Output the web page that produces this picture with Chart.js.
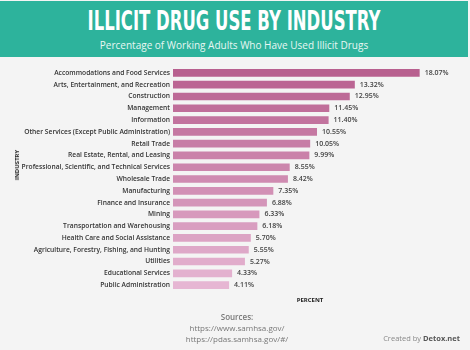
<!DOCTYPE html>
<html><head><meta charset="utf-8">
<script src="https://cdn.jsdelivr.net/npm/chart.js@4/dist/chart.umd.min.js"></script>
<style>
html,body{margin:0;padding:0;background:#f4f4f4;width:470px;height:350px;overflow:hidden;font-family:"Open Sans",sans-serif;}
#hdr{position:absolute;left:0;top:1px;width:468px;height:56px;background:#2db39c;text-align:center;color:#fff;}
#ttl{position:absolute;left:234px;top:5px;font-family:"DejaVu Sans",sans-serif;font-weight:bold;font-size:26px;white-space:nowrap;transform-origin:0 0;}
#sub{position:absolute;left:0;width:468px;top:37px;font-size:10px;color:#e8f7f3;}
#wrap{position:absolute;left:0;top:60px;width:470px;height:240px;}
.t{position:absolute;white-space:nowrap;}
</style></head><body>
<div id="hdr"><div id="ttl">ILLICIT DRUG USE BY INDUSTRY</div><div id="sub">Percentage of Working Adults Who Have Used Illicit Drugs</div></div>
<div id="wrap"><canvas id="c" width="470" height="240"></canvas></div>
<div class="t" style="left:17px;top:165px;transform:translate(-50%,-50%) rotate(-90deg);font-size:6px;font-weight:700;color:#222;">INDUSTRY</div>
<div class="t" style="left:310px;top:300px;transform:translate(-50%,-50%);font-size:6px;font-weight:700;color:#222;">PERCENT</div>
<div class="t" style="left:237px;top:311px;transform:translateX(-50%);font-size:8px;color:#777;text-align:center;line-height:11px;"><span style="font-weight:600">Sources:</span><br>https://www.samhsa.gov/<br>https://pdas.samhsa.gov/#/</div>
<div class="t" style="right:10px;top:333px;font-size:7.5px;color:#888;">Created by <b style="color:#555">Detox.net</b></div>
<script>
const categories = ["Accommodations and Food Services","Arts, Entertainment, and Recreation","Construction","Management","Information","Other Services (Except Public Administration)","Retail Trade","Real Estate, Rental, and Leasing","Professional, Scientific, and Technical Services","Wholesale Trade","Manufacturing","Finance and Insurance","Mining","Transportation and Warehousing","Health Care and Social Assistance","Agriculture, Forestry, Fishing, and Hunting","Utilities","Educational Services","Public Administration"];
const values = [18.07,13.32,12.95,11.45,11.40,10.55,10.05,9.99,8.55,8.42,7.35,6.88,6.33,6.18,5.70,5.55,5.27,4.33,4.11];
const valueLabels = ["18.07%","13.32%","12.95%","11.45%","11.40%","10.55%","10.05%","9.99%","8.55%","8.42%","7.35%","6.88%","6.33%","6.18%","5.70%","5.55%","5.27%","4.33%","4.11%"];
// fit title to reference width with horizontal condensing
const ttl=document.getElementById('ttl');const w=ttl.offsetWidth;const sx=293/w;
ttl.style.transform='translateX(-146.5px) scale('+sx+',1)';
const c0=[184,96,143], c1=[230,182,211];
const colors = categories.map((_,i)=>{const t=i/(categories.length-1);return 'rgb('+c0.map((v,k)=>Math.round(v+(c1[k]-v)*t)).join(',')+')';});
const valPlugin={id:'vals',afterDatasetsDraw(chart){const ctx=chart.ctx;const meta=chart.getDatasetMeta(0);ctx.save();ctx.font='600 7px "Open Sans"';ctx.fillStyle='#444';ctx.textBaseline='middle';meta.data.forEach((b,i)=>{ctx.fillText(valueLabels[i],b.x+5,b.y);});ctx.restore();}};
new Chart(document.getElementById('c'),{type:'bar',data:{labels:categories,datasets:[{data:values,backgroundColor:colors,barPercentage:0.65,categoryPercentage:1}]},
options:{indexAxis:'y',responsive:false,animation:false,layout:{padding:{left:0,right:24,top:7,bottom:9}},
plugins:{legend:{display:false},tooltip:{enabled:false}},
scales:{x:{display:false,min:0,max:20},y:{afterFit(s){s.width=173;},grid:{display:false,drawTicks:false},border:{display:false},ticks:{color:'#333',padding:3,font:{family:'"Open Sans"',size:6.7,weight:'600'}}}}},plugins:[valPlugin]});
</script></body></html>
